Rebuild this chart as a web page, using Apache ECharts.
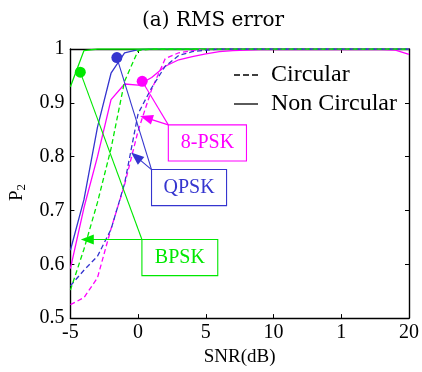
<!DOCTYPE html>
<html>
<head>
<meta charset="utf-8">
<script src="https://cdn.jsdelivr.net/npm/echarts@6/dist/echarts.min.js"></script>
<style>html,body{margin:0;padding:0;background:#fff}#c{width:422px;height:372px}</style>
</head>
<body>
<div id="c"></div>
<script>
// ---- data ----
const snr = [-5,-4,-3,-2,-1,0,1,2,3,4,5,6,7,8,9,10,11,12,13,14,15,16,17,18,19,20];
const bpskNonCirc = [0.93,0.997,1,1,1,1,1,1,1,1,1,1,1,1,1,1,1,1,1,1,1,1,1,1,1,1];
const bpskCirc    = [0.552,0.628,0.715,0.815,0.94,0.997,1,1,1,1,1,1,1,1,1,1,1,1,1,1,1,1,1,1,1,1];
const qpskNonCirc = [0.626,0.72,0.855,0.955,0.993,0.999,1,1,1,1,1,1,1,1,1,1,1,1,1,1,1,1,1,1,1,1];
const qpskCirc    = [0.56,0.589,0.615,0.665,0.75,0.88,0.928,0.968,0.988,0.995,0.998,1,1,1,1,1,1,1,1,1,1,1,1,1,1,1];
const psk8NonCirc = [0.592,0.705,0.80,0.906,0.935,0.933,0.947,0.968,0.98,0.986,0.991,0.995,0.997,0.998,0.999,0.999,0.999,0.999,0.999,0.999,0.999,0.999,0.999,0.999,0.998,0.99];
const psk8Circ    = [0.525,0.538,0.575,0.666,0.748,0.848,0.925,0.982,0.993,0.997,1,1,1,1,1,1,1,1,1,1,1,1,1,1,1,1];
const xTickValues = [-5,0,5,10,15,20];
const xTickLabels = ['-5','0','5','10','1','20'];
const yTickValues = [0.5,0.6,0.7,0.8,0.9,1];
const yTickLabels = ['0.5','0.6','0.7','0.8','0.9','1'];
const legendNames = ['Circular','Non Circular'];
// annotations in data coordinates: marker, box corner, arrow tip, box extent
const annotations = [
  {name:'8-PSK', marker:[0.3,0.94],  corner:[2.23,0.859], tip:[0.6,0.872],  box:[[2.23,0.859],[8.0,0.792]]},
  {name:'QPSK',  marker:[-1.57,0.984], corner:[0.99,0.776], tip:[-0.15,0.80], box:[[0.99,0.776],[6.53,0.709]]},
  {name:'BPSK',  marker:[-4.27,0.957], corner:[0.28,0.646], tip:[-3.75,0.646], box:[[0.28,0.646],[5.88,0.579]]}
];

const GREEN = '#00e800', BLUE = '#3535cf', MAG = '#ff00ff';
const SERIF = "'Liberation Serif', 'Times New Roman', serif";
const pairs = arr => snr.map((x,i)=>[x,arr[i]]);

function annot(a, color){
  return {
    markPoint: {
      symbol:'circle', symbolSize:11, silent:true, animation:false,
      itemStyle:{color:color}, label:{show:false},
      data:[{coord:a.marker}]
    },
    markLine: {
      silent:true, animation:false, label:{show:false},
      lineStyle:{color:color, type:'solid', width:1.1},
      data:[
        [{coord:a.marker, symbol:'none'},{coord:a.corner, symbol:'none'}],
        [{coord:a.corner, symbol:'none'},{coord:a.tip, symbol:'triangle', symbolSize:[10,13]}]
      ]
    },
    markArea: {
      silent:true, animation:false,
      itemStyle:{color:'#ffffff', borderColor:color, borderWidth:1.1},
      label:{show:true, position:'inside', color:color, fontFamily:SERIF, fontSize:20},
      data:[[{name:a.name, coord:a.box[0]},{coord:a.box[1]}]]
    }
  };
}

function line(name, arr, color, dashed, extra){
  return Object.assign({
    name:name, type:'line', data:pairs(arr), symbol:'none', silent:true,
    lineStyle:{color:color, width:1.3, type: dashed ? [5,3] : 'solid'},
    itemStyle:{color:color}, z: dashed ? 4 : 3
  }, extra||{});
}

const axisCommon = {
  axisLine:{show:true, onZero:false, lineStyle:{color:'#000', width:1.4}},
  axisTick:{show:true, inside:true, length:4, lineStyle:{color:'#000'}},
  splitLine:{show:false}
};

const chart = echarts.init(document.getElementById('c'), null, {renderer:'canvas'});
chart.setOption({
  animation:false,
  backgroundColor:'#fff',
  textStyle:{fontFamily:SERIF},
  title:{text:'(a) RMS error', left:137, top:6,
    textStyle:{fontFamily:'DejaVu Serif', fontWeight:'normal', fontSize:20, color:'#000'}},
  grid:{left:70, right:9, top:49, bottom:46},
  legend:{
    data:[
      {name:legendNames[0], icon:'path://M0,0h6v1h-6zM9,0h6v1h-6zM18,0h6v1h-6z'},
      {name:legendNames[1], icon:'path://M0,0h24v1h-24z'}
    ],
    orient:'vertical', left:229, top:58, itemWidth:24, itemHeight:1.3, itemGap:5,
    symbolKeepAspect:false, selectedMode:false,
    itemStyle:{color:'#000'},
    textStyle:{fontFamily:SERIF, fontSize:24, color:'#000', padding:[0,0,0,8]}
  },
  xAxis:[
    Object.assign({type:'value', min:-5, max:20, interval:5, position:'bottom',
      name:'SNR(dB)', nameLocation:'middle', nameGap:23,
      nameTextStyle:{fontFamily:SERIF, fontSize:19, color:'#000'},
      axisLabel:{fontFamily:SERIF, fontSize:20, color:'#000', margin:5,
        formatter:v=>{const i=xTickValues.indexOf(v); return i>=0?xTickLabels[i]:'';}}
    }, axisCommon),
    Object.assign({type:'value', min:-5, max:20, interval:5, position:'top', axisLabel:{show:false}}, axisCommon)
  ],
  yAxis:[
    Object.assign({type:'value', min:0.5, max:1, interval:0.1, position:'left',
      name:'{p|P}{s|2}', nameLocation:'middle', nameGap:31, nameRotate:90,
      nameTextStyle:{padding:[0,18,0,0], rich:{p:{fontFamily:SERIF, fontSize:19, color:'#000'},
                           s:{fontFamily:SERIF, fontSize:13, color:'#000', padding:[9,0,0,0]}}},
      axisLabel:{fontFamily:SERIF, fontSize:20, color:'#000', margin:6,
        formatter:v=>{const i=yTickValues.findIndex(t=>Math.abs(t-v)<1e-6); return i>=0?yTickLabels[i]:'';}}
    }, axisCommon),
    Object.assign({type:'value', min:0.5, max:1, interval:0.1, position:'right', axisLabel:{show:false}}, axisCommon)
  ],
  series:[
    line('8-PSK non circular', psk8NonCirc, MAG, false, annot(annotations[0], MAG)),
    line('QPSK non circular', qpskNonCirc, BLUE, false, annot(annotations[1], BLUE)),
    line('BPSK non circular', bpskNonCirc, GREEN, false, annot(annotations[2], GREEN)),
    line('8-PSK circular', psk8Circ, MAG, true),
    line('QPSK circular', qpskCirc, BLUE, true),
    line('BPSK circular', bpskCirc, GREEN, true),
    {name:legendNames[0], type:'line', data:[], symbol:'none', color:'#000',
      lineStyle:{color:'#000', width:1.3, type:[5,3]}},
    {name:legendNames[1], type:'line', data:[], symbol:'none', color:'#000',
      lineStyle:{color:'#000', width:1.3, type:'solid'}}
  ]
});
</script>
</body>
</html>
